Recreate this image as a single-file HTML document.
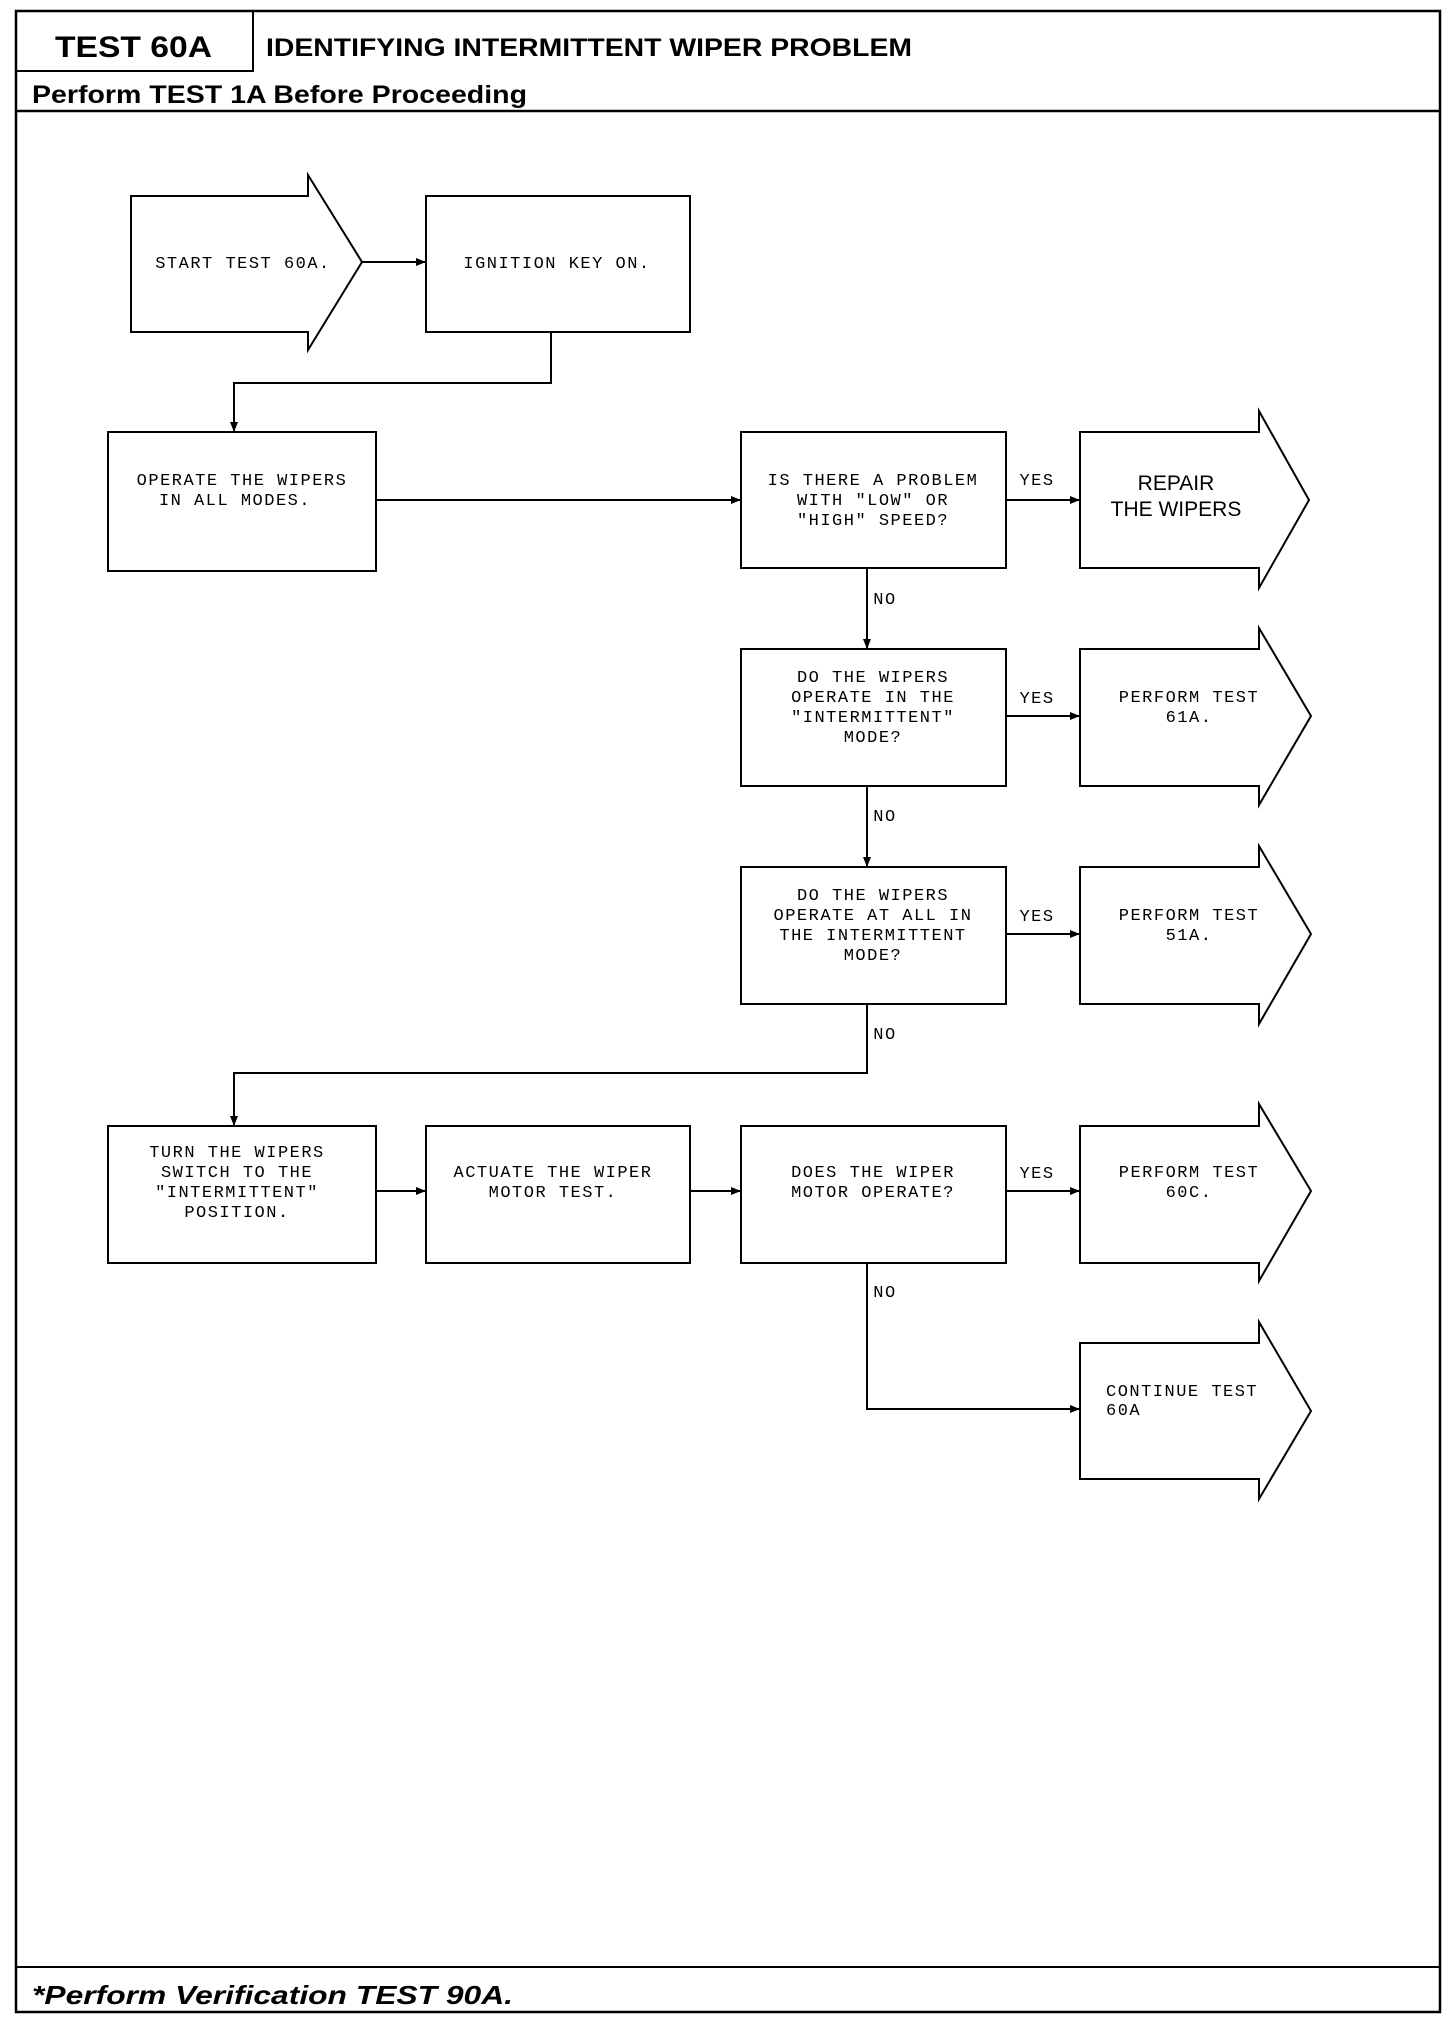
<!DOCTYPE html>
<html><head><meta charset="utf-8"><style>
html,body{margin:0;padding:0;background:#fff;}
svg{display:block;}
.m{font-family:"Liberation Mono",monospace;font-size:17px;letter-spacing:1.5px;fill:#000;}
.s{font-family:"Liberation Sans",sans-serif;fill:#000;}
</style></head><body>
<svg width="1456" height="2024" viewBox="0 0 1456 2024" xmlns="http://www.w3.org/2000/svg">
<defs><marker id="a" markerWidth="10" markerHeight="8" refX="9" refY="4" orient="auto" markerUnits="userSpaceOnUse"><path d="M0,0 L10,4 L0,8 Z" fill="#000"/></marker></defs>
<g fill="none" stroke="#000">
<rect x="16" y="11" width="1424" height="2001" stroke-width="2.5"/>
<rect x="16" y="11" width="237" height="60" stroke-width="2"/>
<line x1="16" y1="111" x2="1440" y2="111" stroke-width="2.5"/>
<line x1="16" y1="1967" x2="1440" y2="1967" stroke-width="2"/>
</g>
<text class="s" x="55" y="57" font-size="30" font-weight="bold" textLength="157" lengthAdjust="spacingAndGlyphs">TEST 60A</text>
<text class="s" x="266" y="56" font-size="25" font-weight="bold" textLength="646" lengthAdjust="spacingAndGlyphs">IDENTIFYING INTERMITTENT WIPER PROBLEM</text>
<text class="s" x="32" y="103" font-size="25" font-weight="bold" textLength="495" lengthAdjust="spacingAndGlyphs">Perform TEST 1A Before Proceeding</text>
<text class="s" x="32" y="2004" font-size="26" font-weight="bold" font-style="italic" textLength="481" lengthAdjust="spacingAndGlyphs">*Perform Verification TEST 90A.</text>

<g fill="none" stroke="#000" stroke-width="2">
<path d="M131,196 H308 V175 L362,262 L308,350 V332 H131 Z"/>
<rect x="426" y="196" width="264" height="136"/>
<rect x="108" y="432" width="268" height="139"/>
<rect x="741" y="432" width="265" height="136"/>
<path d="M1080,432 H1259 V411 L1309,500 L1259,588 V568 H1080 Z"/>
<rect x="741" y="649" width="265" height="137"/>
<path d="M1080,649 H1259 V628 L1311,716 L1259,805 V786 H1080 Z"/>
<rect x="741" y="867" width="265" height="137"/>
<path d="M1080,867 H1259 V846 L1311,934 L1259,1024 V1004 H1080 Z"/>
<rect x="108" y="1126" width="268" height="137"/>
<rect x="426" y="1126" width="264" height="137"/>
<rect x="741" y="1126" width="265" height="137"/>
<path d="M1080,1126 H1259 V1104 L1311,1191 L1259,1281 V1263 H1080 Z"/>
<path d="M1080,1343 H1259 V1322 L1311,1411 L1259,1499 V1479 H1080 Z"/>
</g>
<g fill="none" stroke="#000" stroke-width="2" marker-end="url(#a)">
<line x1="362" y1="262" x2="425" y2="262"/>
<path d="M551,332 V383 H234 V431"/>
<line x1="376" y1="500" x2="740" y2="500"/>
<line x1="1006" y1="500" x2="1079" y2="500"/>
<line x1="867" y1="568" x2="867" y2="648"/>
<line x1="1006" y1="716" x2="1079" y2="716"/>
<line x1="867" y1="786" x2="867" y2="866"/>
<line x1="1006" y1="934" x2="1079" y2="934"/>
<path d="M867,1004 V1073 H234 V1125"/>
<line x1="376" y1="1191" x2="425" y2="1191"/>
<line x1="690" y1="1191" x2="740" y2="1191"/>
<line x1="1006" y1="1191" x2="1079" y2="1191"/>
<path d="M867,1263 V1409 H1079"/>
</g>

<g class="m" text-anchor="middle">
<text x="243" y="268">START TEST 60A.</text>
<text x="557" y="268">IGNITION KEY ON.</text>
<text x="242" y="485">OPERATE THE WIPERS</text>
<text x="235" y="505">IN ALL MODES.</text>
<text x="873" y="485">IS THERE A PROBLEM</text>
<text x="873" y="505">WITH "LOW" OR</text>
<text x="873" y="525">"HIGH" SPEED?</text>
<text x="873" y="682">DO THE WIPERS</text>
<text x="873" y="702">OPERATE IN THE</text>
<text x="873" y="722">"INTERMITTENT"</text>
<text x="873" y="742">MODE?</text>
<text x="1189" y="702">PERFORM TEST</text>
<text x="1189" y="722">61A.</text>
<text x="873" y="900">DO THE WIPERS</text>
<text x="873" y="920">OPERATE AT ALL IN</text>
<text x="873" y="940">THE INTERMITTENT</text>
<text x="873" y="960">MODE?</text>
<text x="1189" y="920">PERFORM TEST</text>
<text x="1189" y="940">51A.</text>
<text x="237" y="1157">TURN THE WIPERS</text>
<text x="237" y="1177">SWITCH TO THE</text>
<text x="237" y="1197">"INTERMITTENT"</text>
<text x="237" y="1217">POSITION.</text>
<text x="553" y="1177">ACTUATE THE WIPER</text>
<text x="553" y="1197">MOTOR TEST.</text>
<text x="873" y="1177">DOES THE WIPER</text>
<text x="873" y="1197">MOTOR OPERATE?</text>
<text x="1189" y="1177">PERFORM TEST</text>
<text x="1189" y="1197">60C.</text>
<text x="1037" y="485">YES</text>
<text x="1037" y="703">YES</text>
<text x="1037" y="921">YES</text>
<text x="1037" y="1178">YES</text>
<text x="885" y="604">NO</text>
<text x="885" y="821">NO</text>
<text x="885" y="1039">NO</text>
<text x="885" y="1297">NO</text>
</g>
<text class="m" x="1106" y="1396">CONTINUE TEST</text>
<text class="m" x="1106" y="1415">60A</text>
<text class="s" x="1176" y="490" font-size="21" text-anchor="middle">REPAIR</text>
<text class="s" x="1176" y="516" font-size="21" text-anchor="middle">THE WIPERS</text>
</svg>
</body></html>
